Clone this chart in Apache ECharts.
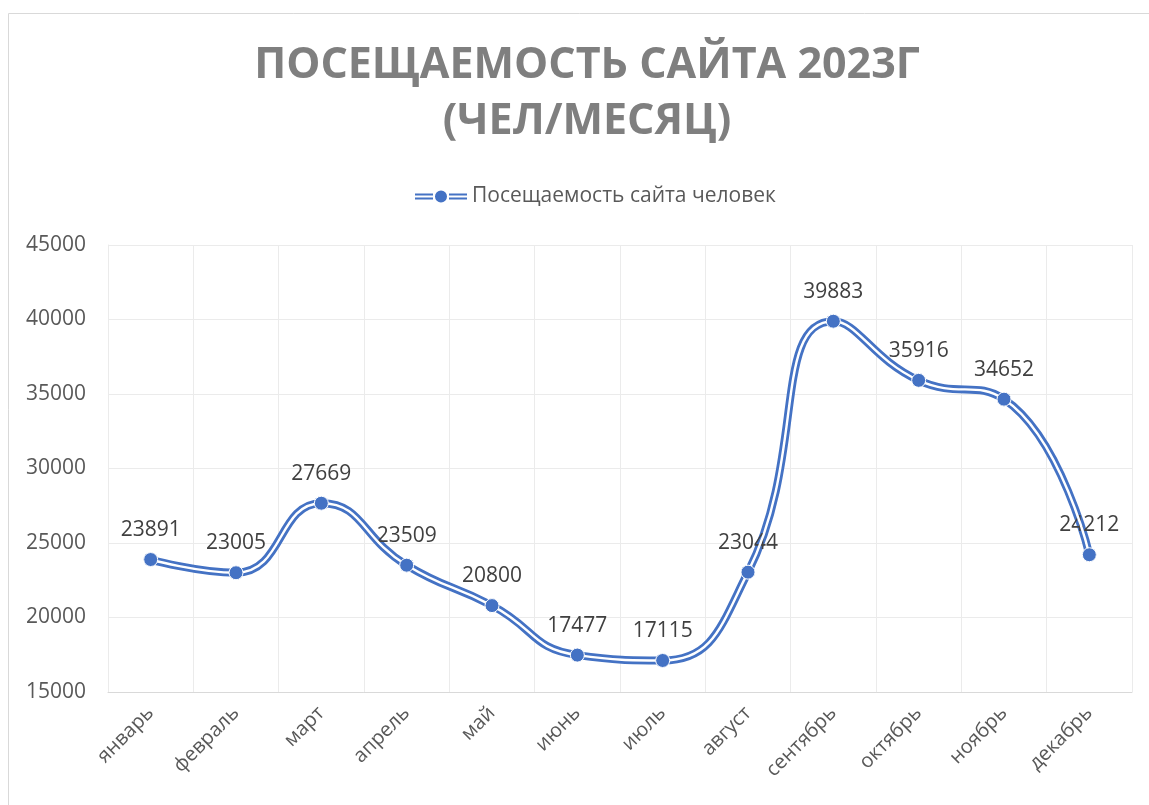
<!DOCTYPE html>
<html>
<head>
<meta charset="utf-8">
<script src="https://cdn.jsdelivr.net/npm/echarts@6/dist/echarts.min.js"></script>
<style>
  html, body { margin: 0; padding: 0; background: #fff; }
  #main { width: 1149px; height: 805px; }
</style>
</head>
<body>
<div id="main"></div>
<script>
const months = ['январь', 'февраль', 'март', 'апрель', 'май', 'июнь', 'июль', 'август', 'сентябрь', 'октябрь', 'ноябрь', 'декабрь'];
const visitors = [23891, 23005, 27669, 23509, 20800, 17477, 17115, 23044, 39883, 35916, 34652, 24212];
const seriesName = 'Посещаемость сайта человек';
const yMin = 15000, yMax = 45000, yStep = 5000;

const blue = '#4472c4';
const font = '"Open Sans", "Noto Sans", sans-serif';

var chart = echarts.init(document.getElementById('main'));
chart.setOption({
  animation: false,
  textStyle: { fontFamily: font },
  // рамка области диаграммы
  graphic: [{
    type: 'rect',
    shape: { x: 8.5, y: 13.5, width: 1300, height: 900 },
    style: { fill: 'none', stroke: '#d9d9d9', lineWidth: 1 },
    z: -10
  }],
  title: {
    text: 'ПОСЕЩАЕМОСТЬ САЙТА 2023Г\n(ЧЕЛ/МЕСЯЦ)',
    left: 582,
    textAlign: 'center',
    top: 33,
    textStyle: {
      fontFamily: font,
      fontSize: 43,
      fontWeight: 'bold',
      color: '#7f7f7f',
      lineHeight: 56
    }
  },
  legend: {
    data: [seriesName],
    left: 410,
    top: 181,
    itemWidth: 52,
    itemHeight: 12,
    itemGap: 6,
    icon: 'path://M0,2h18v2h-18z M0,6h18v2h-18z M20,5a6,6 0 1,0 12,0a6,6 0 1,0 -12,0z M34,2h18v2h-18z M34,6h18v2h-18z',
    textStyle: { fontSize: 21, color: '#595959', fontFamily: font }
  },
  grid: { left: 108, right: 17, top: 245, bottom: 113, containLabel: false },
  xAxis: {
    type: 'category',
    data: months,
    boundaryGap: true,
    axisLine: { lineStyle: { color: '#d9d9d9', width: 1 } },
    axisTick: { show: false },
    splitLine: { show: true, lineStyle: { color: '#ebebeb', width: 1 } },
    axisLabel: {
      rotate: 45,
      fontSize: 20,
      color: '#595959',
      margin: 18,
      interval: 0
    }
  },
  yAxis: {
    type: 'value',
    min: yMin,
    max: yMax,
    interval: yStep,
    axisLine: { show: true, lineStyle: { color: '#ebebeb' } },
    axisTick: { show: false },
    splitLine: { lineStyle: { color: '#ebebeb', width: 1 } },
    axisLabel: {
      fontSize: 21,
      color: '#595959',
      margin: 22,
      formatter: function (v) { return String(v); }
    }
  },
  series: [{
    name: seriesName,
    type: 'line',
    data: visitors,
    smooth: 0.5,
    symbol: 'circle',
    symbolSize: 14,
    itemStyle: { color: blue },
    lineStyle: { color: blue, width: 8 },
    label: {
      show: true,
      position: 'top',
      distance: 12,
      fontSize: 21,
      color: '#404040'
    },
    z: 2
  }, {
    // белая середина двойной линии
    name: 'inner',
    type: 'line',
    data: visitors,
    smooth: 0.5,
    symbol: 'none',
    lineStyle: { color: '#fff', width: 2.4 },
    silent: true,
    z: 3
  }, {
    // маркеры поверх белой линии
    name: 'markers',
    type: 'line',
    data: visitors,
    symbol: 'circle',
    symbolSize: 14,
    itemStyle: { color: blue, borderColor: '#fff', borderWidth: 1 },
    lineStyle: { width: 0, opacity: 0 },
    silent: true,
    z: 4
  }]
});
</script>
</body>
</html>
